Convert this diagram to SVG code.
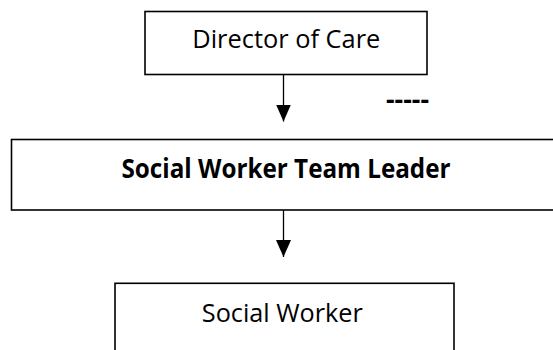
<svg xmlns="http://www.w3.org/2000/svg" width="553" height="350" viewBox="0 0 553 350">
  <style>
    .box { fill: #ffffff; stroke: #000000; stroke-width: 1.6; }
    .lbl { font-family: "Open Sans", "Noto Sans", "Liberation Sans", sans-serif; font-size: 26px; fill: #000000; text-anchor: middle; }
    .bold { font-weight: bold; }
    .conn { stroke: #000000; stroke-width: 1.3; fill: none; }
  </style>
  <defs>
    <marker id="arrow" viewBox="0 0 17 15" refX="17" refY="7.5" markerWidth="17" markerHeight="15" markerUnits="userSpaceOnUse" orient="auto">
      <path d="M0,0 L17,7.5 L0,15 Z" fill="#000000"/>
    </marker>
  </defs>
  <rect width="553" height="350" fill="#ffffff"/>
  <g id="connectors">
    <line class="conn" x1="283.5" y1="74.5" x2="283.5" y2="121.5" marker-end="url(#arrow)"/>
    <line class="conn" x1="283.5" y1="210" x2="283.5" y2="257" marker-end="url(#arrow)"/>
  </g>
  <g id="director">
    <rect class="box" x="145" y="11.5" width="282" height="63"/>
    <text class="lbl" x="286.3" y="48" textLength="188" lengthAdjust="spacingAndGlyphs">Director of Care</text>
  </g>
  <g id="dashes">
    <text class="lbl bold" x="407.5" y="109" textLength="43" lengthAdjust="spacingAndGlyphs">-----</text>
  </g>
  <g id="teamleader">
    <rect class="box" x="11.5" y="139.5" width="560" height="70.5"/>
    <text class="lbl bold" x="286" y="177.5" textLength="329" lengthAdjust="spacingAndGlyphs">Social Worker Team Leader</text>
  </g>
  <g id="socialworker">
    <rect class="box" x="115" y="283.3" width="339" height="90"/>
    <text class="lbl" x="282.3" y="321.5" textLength="161" lengthAdjust="spacingAndGlyphs">Social Worker</text>
  </g>
</svg>
